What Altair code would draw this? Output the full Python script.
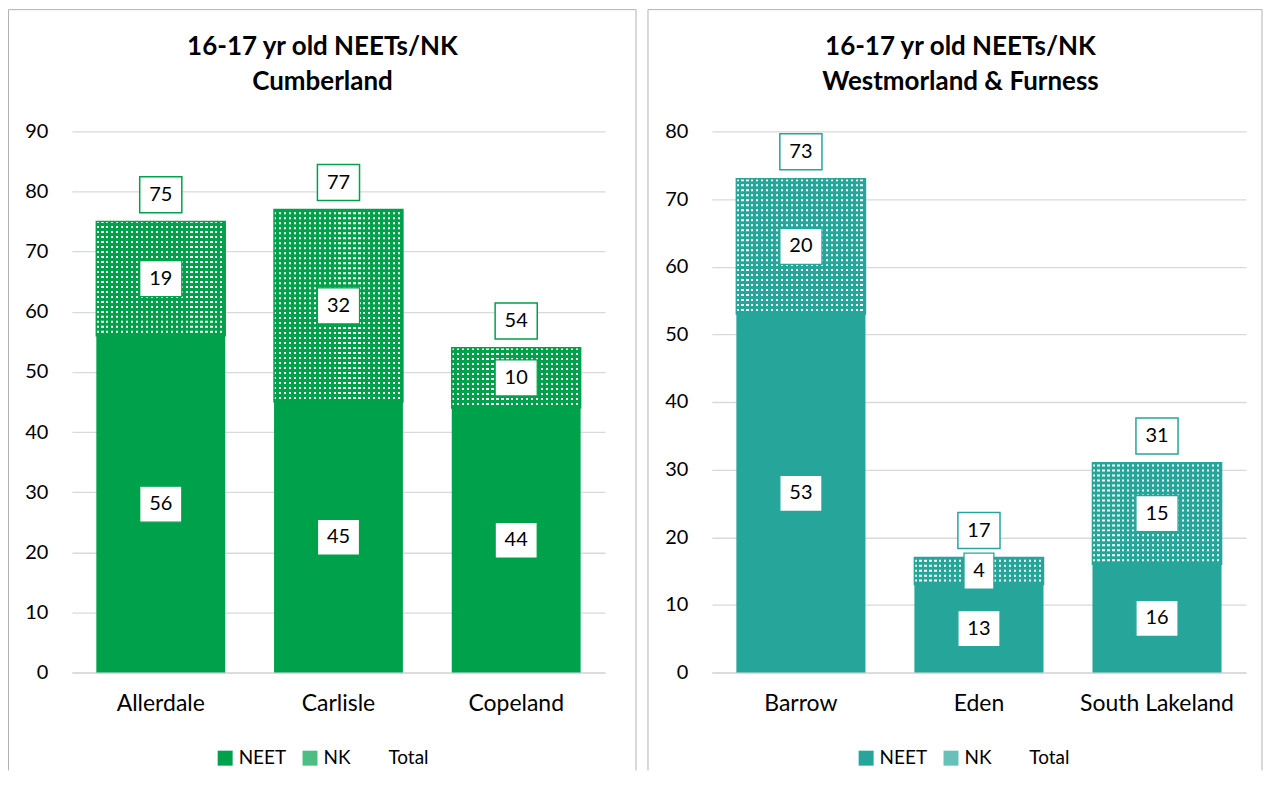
import altair as alt
import pandas as pd

# ---- data ----
left_categories = ["Allerdale", "Carlisle", "Copeland"]
left_neet = [56, 45, 44]
left_nk = [19, 32, 10]
left_total = [75, 77, 54]

right_categories = ["Barrow", "Eden", "South Lakeland"]
right_neet = [53, 13, 16]
right_nk = [20, 4, 15]
right_total = [73, 17, 31]

series_names = ["NEET", "NK", "Total"]
left_titles = ["16-17 yr old NEETs/NK", "Cumberland"]
right_titles = ["16-17 yr old NEETs/NK", "Westmorland & Furness"]
left_ticks = [0, 10, 20, 30, 40, 50, 60, 70, 80, 90]
right_ticks = [0, 10, 20, 30, 40, 50, 60, 70, 80]

FONT = "Lato"
H = 542
FRAME = "#b3b3b3"
GRID = "#d9d9d9"

BOX_WIDE = "M-1.17,-1 L1.17,-1 L1.17,1 L-1.17,1 Z"
BOX_NARROW = "M-0.83,-1 L0.83,-1 L0.83,1 L-0.83,1 Z"


def stripe_gradient(color, n=26, white_frac=0.45):
    stops = []
    for i in range(n):
        a = i / n
        b = (i + white_frac) / n
        c = (i + 1) / n
        stops += [
            {"offset": a, "color": "#ffffff"},
            {"offset": b, "color": "#ffffff"},
            {"offset": b, "color": color},
            {"offset": c, "color": color},
        ]
    return {"gradient": "linear", "x1": 0, "y1": 0, "x2": 1, "y2": 0, "stops": stops}


def panel(cats, neet, nk, total, ymax, ticks, color, tint, titles, width,
          frame_left, frame_right, title_x, legend_x):
    rows = []
    for c, a, b, t in zip(cats, neet, nk, total):
        rows.append({"category": c, "series": "NEET", "lo": 0, "hi": a, "mid": a / 2, "value": a})
        rows.append({"category": c, "series": "NK", "lo": a, "hi": t, "mid": (a + t) / 2, "value": b})
    seg = pd.DataFrame(rows)
    tot = pd.DataFrame({"category": cats, "total": total})
    one = pd.DataFrame({"k": [0]})

    xaxis = alt.Axis(title=None, labelAngle=0, labelFont=FONT, labelFontSize=23,
                     labelColor="black", labelPadding=20, ticks=False,
                     domainColor=GRID, domainWidth=1.5, grid=False)
    xscale = alt.Scale(domain=cats, paddingInner=0.275, paddingOuter=0.1375)

    def X():
        return alt.X("category:N", sort=cats, scale=xscale, axis=xaxis)

    yaxis = alt.Axis(title=None, values=ticks, labelFont=FONT, labelFontSize=20,
                     labelColor="black", labelPadding=24, ticks=False, domain=False,
                     gridColor=GRID, gridWidth=1.3)
    yscale = alt.Scale(domain=[0, ymax], nice=False, zero=True)

    def Y(field):
        return alt.Y(f"{field}:Q", scale=yscale, axis=yaxis)

    bars = alt.Chart(seg).mark_bar().encode(
        x=X(), y=Y("lo"), y2="hi",
        color=alt.Color("series:N",
                        scale=alt.Scale(domain=series_names, range=[color, tint, "rgba(0,0,0,0)"]),
                        legend=alt.Legend(orient="none", legendX=legend_x, legendY=618,
                                          direction="horizontal", title=None,
                                          symbolType="square", symbolSize=225,
                                          symbolStrokeWidth=0, labelFont=FONT,
                                          labelFontSize=19, labelColor="black",
                                          columnPadding=14, labelOffset=4, padding=0)),
    )

    nk_only = alt.Chart(seg).transform_filter("datum.series == 'NK'")
    nk_fill = nk_only.mark_bar(fill=stripe_gradient(color)).encode(x=X(), y=Y("lo"), y2="hi")
    nk_dash = nk_only.mark_rule(color=color, strokeWidth=129, strokeDash=[3, 2]).encode(
        x=X(), y=Y("lo"), y2="hi")
    nk_outline = nk_only.mark_bar(fillOpacity=0, stroke=color, strokeWidth=1.5).encode(
        x=X(), y=Y("lo"), y2="hi")

    shape_enc = alt.condition("datum.value < 10", alt.value(BOX_NARROW), alt.value(BOX_WIDE))
    seg_box = alt.Chart(seg).mark_point(filled=True, fill="#ffffff", stroke=color,
                                        strokeWidth=1.3, opacity=1, fillOpacity=1).encode(
        x=X(), y=Y("mid"), shape=shape_enc, size=alt.value(1300))
    seg_txt = alt.Chart(seg).mark_text(font=FONT, fontSize=20, color="black",
                                       baseline="middle").encode(
        x=X(), y=Y("mid"), text="value:Q")

    tot_box = alt.Chart(tot).mark_point(filled=True, fill="#ffffff", stroke=color,
                                        strokeWidth=1.5, opacity=1, fillOpacity=1,
                                        shape=BOX_WIDE, yOffset=-27).encode(
        x=X(), y=Y("total"), size=alt.value(1300))
    tot_txt = alt.Chart(tot).mark_text(font=FONT, fontSize=20, color="black",
                                       baseline="middle", dy=-27).encode(
        x=X(), y=Y("total"), text="total:Q")

    base = alt.Chart(one)
    frame_l = base.mark_rule(color=FRAME, strokeWidth=1).encode(
        x=alt.value(frame_left), y=alt.value(-122), y2=alt.value(640))
    frame_r = base.mark_rule(color=FRAME, strokeWidth=1).encode(
        x=alt.value(frame_right), y=alt.value(-122), y2=alt.value(640))
    frame_t = base.mark_rule(color=FRAME, strokeWidth=1).encode(
        x=alt.value(frame_left), x2=alt.value(frame_right), y=alt.value(-122))
    t1 = base.mark_text(font=FONT, fontSize=26, fontWeight="bold", color="black",
                        align="center", baseline="alphabetic").encode(
        x=alt.value(title_x), y=alt.value(-77), text=alt.value(titles[0]))
    t2 = base.mark_text(font=FONT, fontSize=26, fontWeight="bold", color="black",
                        align="center", baseline="alphabetic").encode(
        x=alt.value(title_x), y=alt.value(-41), text=alt.value(titles[1]))

    return alt.layer(bars, nk_fill, nk_dash, nk_outline, seg_box, seg_txt,
                     tot_box, tot_txt, frame_l, frame_r, frame_t, t1, t2).properties(
        width=width, height=H)


left = panel(left_categories, left_neet, left_nk, left_total, 90, left_ticks,
             "#00A14B", "#4DBE82", left_titles, 534, -63.5, 565, 251, 144)
right = panel(right_categories, right_neet, right_nk, right_total, 80, right_ticks,
              "#26A69A", "#68C1B9", right_titles, 535, -64, 551, 249, 145)

chart = alt.hconcat(left, right, spacing=10).resolve_scale(
    color="independent", y="independent", x="independent"
).resolve_legend(color="independent").properties(padding=0).configure_view(strokeWidth=0)

chart.save("out.html", embed_options={"renderer": "svg", "actions": False})
